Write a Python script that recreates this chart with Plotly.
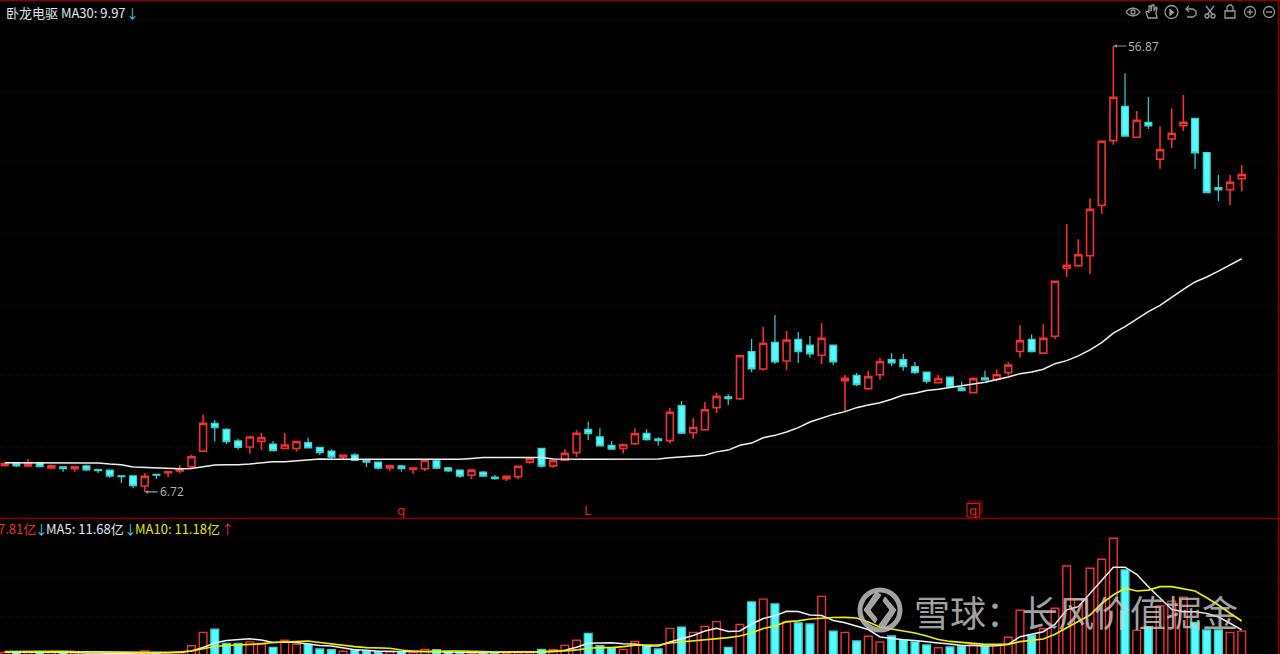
import numpy as np
import plotly.graph_objects as go

W, H = 1280, 654

# price panel
opens = [
    7.63, 7.71, 7.61, 7.71, 7.54, 7.58, 7.51, 7.61, 7.48, 7.46,
    7.26, 7.26, 6.91, 7.31, 7.37, 7.43, 7.58, 8.17, 9.33, 9.07,
    8.58, 8.33, 8.56, 8.45, 8.27, 8.27, 8.51, 8.32, 8.17, 7.94,
    8.02, 7.81, 7.75, 7.54, 7.61, 7.49, 7.51, 7.80, 7.54, 7.46,
    7.28, 7.39, 7.21, 7.16, 7.23, 7.75, 8.28, 7.61, 7.82, 8.11,
    9.07, 8.75, 8.40, 8.27, 8.46, 8.90, 8.66, 8.59, 10.16, 8.92,
    9.05, 10.06, 10.60, 10.50, 13.16, 12.11, 13.76, 12.58, 13.96, 13.57,
    12.93, 13.57, 11.45, 11.75, 11.02, 11.78, 12.66, 12.66, 12.24, 11.93,
    11.34, 11.64, 11.06, 10.81, 11.60, 11.53, 11.90, 13.16, 13.96, 13.06,
    14.16, 19.62, 19.86, 20.83, 26.52, 36.14, 42.60, 36.73, 39.47, 33.06,
    36.43, 38.83, 40.23, 34.12, 28.85, 28.57, 30.12,
]
closes = [
    7.70, 7.61, 7.71, 7.58, 7.61, 7.51, 7.58, 7.47, 7.44, 7.25,
    7.23, 6.92, 7.24, 7.28, 7.40, 7.49, 7.95, 9.33, 9.14, 8.55,
    8.32, 8.74, 8.71, 8.19, 8.41, 8.55, 8.30, 8.11, 7.94, 8.01,
    7.81, 7.75, 7.53, 7.61, 7.51, 7.53, 7.82, 7.53, 7.43, 7.25,
    7.46, 7.25, 7.16, 7.24, 7.60, 7.89, 7.60, 7.80, 8.08, 8.90,
    8.88, 8.38, 8.25, 8.42, 8.88, 8.63, 8.59, 9.84, 8.90, 9.15,
    9.96, 10.62, 10.50, 12.91, 12.11, 13.70, 12.52, 13.90, 13.16, 13.02,
    14.03, 12.52, 11.58, 11.23, 11.67, 12.54, 12.46, 12.24, 11.90, 11.42,
    11.56, 11.12, 10.92, 11.56, 11.49, 11.78, 12.33, 13.87, 13.16, 14.03,
    18.43, 19.90, 20.93, 26.02, 36.04, 44.49, 36.95, 39.85, 38.77, 34.62,
    37.41, 39.47, 34.07, 28.17, 28.53, 29.60, 30.71,
]
highs = [
    7.72, 7.72, 7.87, 7.72, 7.66, 7.59, 7.59, 7.65, 7.50, 7.47,
    7.27, 7.27, 7.35, 7.32, 7.41, 7.64, 8.02, 9.74, 9.48, 9.12,
    8.67, 8.78, 8.91, 8.58, 8.91, 8.58, 8.71, 8.33, 8.24, 8.02,
    8.09, 7.82, 7.76, 7.65, 7.65, 7.54, 7.84, 7.87, 7.57, 7.47,
    7.47, 7.43, 7.29, 7.25, 7.61, 7.91, 8.29, 7.81, 8.24, 9.04,
    9.40, 9.12, 8.58, 8.46, 9.12, 9.07, 8.73, 10.04, 10.39, 9.57,
    10.33, 10.80, 10.73, 12.93, 13.98, 14.81, 15.68, 14.53, 14.46, 14.18,
    15.09, 13.61, 11.77, 11.88, 12.00, 12.77, 13.06, 13.02, 12.52, 11.94,
    11.77, 11.66, 11.40, 11.64, 12.00, 12.09, 12.50, 14.93, 14.30, 15.00,
    18.46, 24.25, 22.54, 27.42, 36.09, 56.87, 49.91, 41.66, 44.55, 38.72,
    42.18, 44.98, 40.29, 34.16, 30.66, 30.66, 32.17,
]
lows = [
    7.58, 7.57, 7.57, 7.55, 7.50, 7.40, 7.40, 7.43, 7.36, 7.19,
    7.01, 6.84, 6.72, 7.15, 7.22, 7.35, 7.49, 8.13, 8.55, 8.45,
    8.23, 8.07, 8.21, 8.15, 8.24, 8.15, 8.27, 8.02, 7.87, 7.86,
    7.80, 7.57, 7.48, 7.44, 7.40, 7.33, 7.43, 7.50, 7.39, 7.19,
    7.15, 7.22, 7.12, 7.08, 7.15, 7.69, 7.55, 7.54, 7.80, 7.94,
    8.62, 8.37, 8.21, 8.08, 8.42, 8.59, 8.38, 8.47, 8.87, 8.67,
    9.01, 9.80, 10.19, 10.44, 11.92, 12.01, 12.40, 12.03, 12.46, 12.77,
    12.40, 12.34, 9.87, 11.16, 10.95, 11.51, 12.28, 12.01, 11.81, 11.29,
    11.29, 11.11, 10.90, 10.78, 11.47, 11.40, 11.73, 12.79, 13.10, 13.04,
    13.98, 18.81, 19.74, 19.09, 25.43, 35.45, 36.83, 36.60, 38.23, 31.56,
    34.90, 37.84, 31.56, 28.08, 27.08, 26.56, 28.35,
]
ma30 = [
    7.73, 7.73, 7.73, 7.73, 7.73, 7.73, 7.73, 7.73, 7.72, 7.68,
    7.65, 7.57, 7.55, 7.53, 7.51, 7.51, 7.52, 7.57, 7.64, 7.65,
    7.65, 7.68, 7.72, 7.76, 7.76, 7.80, 7.83, 7.87, 7.86, 7.86,
    7.86, 7.86, 7.86, 7.86, 7.86, 7.86, 7.86, 7.86, 7.86, 7.86,
    7.89, 7.92, 7.92, 7.92, 7.92, 7.92, 7.92, 7.87, 7.86, 7.86,
    7.86, 7.86, 7.86, 7.86, 7.86, 7.86, 7.87, 7.91, 7.94, 7.96,
    8.01, 8.14, 8.21, 8.40, 8.49, 8.71, 8.81, 8.95, 9.14, 9.39,
    9.56, 9.74, 9.87, 10.06, 10.19, 10.30, 10.47, 10.69, 10.78, 10.92,
    10.99, 11.09, 11.20, 11.27, 11.36, 11.49, 11.65, 11.84, 11.93, 12.09,
    12.42, 12.60, 12.89, 13.27, 13.74, 14.37, 14.83, 15.37, 15.94, 16.42,
    17.10, 17.73, 18.37, 18.81, 19.34, 19.93, 20.53,
]

# volume panel, in 亿
volumes = [
    2.4, 2.5, 2.4, 2.5, 2.4, 2.5, 2.3, 1.9, 1.8, 1.8,
    1.7, 1.8, 2.8, 2.2, 2.3, 2.4, 4.1, 7.5, 8.3, 4.7,
    4.7, 5.1, 4.7, 3.7, 5.5, 4.5, 4.5, 3.3, 3.1, 2.7,
    3.1, 2.85, 2.6, 2.5, 2.6, 2.4, 3.2, 3.1, 2.6, 2.3,
    2.2, 2.4, 2.3, 2.2, 2.3, 2.3, 3.2, 3.1, 4.2, 5.5,
    7.25, 4.1, 3.5, 3.2, 5.2, 4.05, 3.3, 8.5, 8.8, 7.5,
    9.0, 10.2, 3.7, 9.5, 15.2, 15.9, 14.7, 10.1, 9.9, 9.6,
    16.6, 7.8, 7.5, 5.3, 6.5, 5.06, 6.58, 5.57, 5.1, 4.3,
    3.6, 3.8, 4.0, 4.3, 3.9, 4.3, 6.25, 13.1, 6.8, 8.4,
    13.6, 24.3, 15.9, 23.7, 26.0, 31.3, 23.3, 8.0, 8.9, 14.2,
    15.4, 16.4, 10.0, 8.1, 8.1, 7.5, 7.81,
]
vol_ma5 = [
    2.5, 2.5, 2.5, 2.45, 2.45, 2.4, 2.4, 2.3, 2.2, 2.2,
    2.2, 2.2, 2.3, 2.3, 2.35, 2.5, 2.8, 3.65, 4.8, 5.45,
    5.75, 5.87, 5.57, 4.93, 5.06, 4.93, 4.55, 4.17, 4.05, 3.62,
    3.11, 2.96, 2.71, 2.71, 2.6, 2.73, 2.66, 2.66, 2.6, 2.6,
    2.35, 2.35, 2.45, 2.45, 2.45, 2.45, 2.45, 2.6, 2.96, 3.72,
    4.73, 4.73, 4.88, 4.63, 4.55, 4.05, 4.05, 5.06, 5.95, 6.7,
    7.84, 8.53, 7.72, 7.84, 9.61, 11.0, 11.7, 12.83, 12.78, 11.89,
    11.76, 10.5, 9.94, 9.11, 8.22, 6.33, 5.95, 5.64, 5.44, 5.06,
    4.81, 4.55, 4.17, 4.17, 4.05, 4.12, 4.48, 6.4, 7.0, 7.67,
    9.54, 13.2, 14.0, 17.4, 20.7, 24.0, 24.0, 22.2, 19.05, 16.1,
    13.3, 12.7, 12.7, 12.3, 11.4, 9.8, 8.1,
]
vol_ma10 = [
    2.6, 2.65, 2.7, 2.75, 2.7, 2.7, 2.6, 2.55, 2.5, 2.45,
    2.45, 2.45, 2.45, 2.45, 2.45, 2.45, 2.78, 3.3, 3.92, 4.17,
    4.3, 4.43, 4.6, 4.93, 5.06, 5.06, 5.31, 4.93, 4.55, 4.12,
    3.87, 3.62, 3.47, 3.47, 3.04, 2.71, 2.6, 2.78, 2.78, 2.78,
    2.6, 2.6, 2.53, 2.53, 2.53, 2.53, 2.6, 2.78, 2.78, 3.04,
    3.47, 3.62, 3.62, 3.87, 4.23, 4.3, 4.3, 4.81, 5.06, 5.31,
    5.69, 5.95, 6.15, 6.58, 7.34, 8.48, 9.11, 10.2, 10.42, 10.88,
    11.16, 11.26, 11.31, 11.13, 10.12, 8.86, 8.35, 7.84, 7.34, 6.58,
    5.69, 5.19, 4.93, 4.63, 4.48, 4.48, 4.48, 5.14, 5.49, 5.82,
    7.0, 8.68, 10.2, 11.89, 14.85, 16.95, 18.65, 17.96, 18.2, 19.05,
    19.05, 18.47, 17.96, 16.27, 14.42, 12.32, 10.37,
]

price_grid = [64.4, 45.7, 32.48, 23.17, 16.41, 11.71, 8.31]
vol_grid = [31.3, 21.4, 11.56]
marks = [(34, "q"), (50, "L"), (83, "q")]

RED = "#f53030"
CYAN = "#55fbfb"
EDGE_CYAN = "#3fd0d0"
DARK_RED = "#8a0000"
GRID = "#4a0000"
ICON = "#9a9a9a"
ARROW_BLUE = "#40d8f0"
FONT = "Noto Sans CJK SC"

idx = list(range(len(closes)))
up = [c >= o for o, c in zip(opens, closes)]


def fx(px):
    return px / W


def fy(px):
    return 1 - px / H


def poly(*points, close=False):
    # svg path in paper coords from pixel points
    path = "M " + " L ".join(f"{fx(x):.5f},{fy(y):.5f}" for x, y in points)
    return path + " Z" if close else path


fig = go.Figure()

fig.add_trace(go.Scatter(x=idx, y=ma30, mode="lines", line=dict(color="#f2f2f2", width=1.5),
                         hoverinfo="skip"))
fig.add_trace(go.Candlestick(
    x=idx, open=opens, high=highs, low=lows, close=closes, whiskerwidth=0,
    increasing=dict(line=dict(color=RED, width=1.6), fillcolor="#000000"),
    decreasing=dict(line=dict(color=EDGE_CYAN, width=1.2), fillcolor=CYAN),
    hoverinfo="skip",
))

fig.add_trace(go.Bar(
    x=idx, y=volumes, width=0.66, yaxis="y2",
    marker=dict(color=["#000000" if u else CYAN for u in up],
                line=dict(color=[RED if u else EDGE_CYAN for u in up], width=1.4)),
    hoverinfo="skip",
))
fig.add_trace(go.Scatter(x=idx, y=vol_ma5, yaxis="y2", mode="lines",
                         line=dict(color="#f2f2f2", width=1.5), hoverinfo="skip"))
fig.add_trace(go.Scatter(x=idx, y=vol_ma10, yaxis="y2", mode="lines",
                         line=dict(color="#f0f000", width=1.7), hoverinfo="skip"))

shapes = []
# panel borders
shapes.append(dict(type="line", xref="paper", yref="paper", x0=0, x1=1, y0=fy(518.5), y1=fy(518.5),
                   line=dict(color=DARK_RED, width=1.5)))
shapes.append(dict(type="line", xref="paper", yref="paper", x0=0, x1=1, y0=fy(0.5), y1=fy(0.5),
                   line=dict(color=DARK_RED, width=1.5)))
shapes.append(dict(type="line", xref="paper", yref="paper", x0=fx(1278.5), x1=fx(1278.5), y0=0, y1=1,
                   line=dict(color=DARK_RED, width=1.5)))


def circle(cx, cy, r, color=ICON, width=1.3, fill=None, opacity=1):
    shapes.append(dict(type="circle", xref="paper", yref="paper", x0=fx(cx - r), x1=fx(cx + r),
                       y0=fy(cy + r), y1=fy(cy - r), opacity=opacity,
                       line=dict(color=color, width=width), fillcolor=fill))


def path(d, color=ICON, width=1.3, fill=None, opacity=1):
    shapes.append(dict(type="path", xref="paper", yref="paper", path=d, opacity=opacity,
                       line=dict(color=color, width=width), fillcolor=fill))


# toolbar icons
path(poly((1126, 12), (1129, 9), (1133, 8), (1137, 9), (1140, 12), (1137, 15), (1133, 16), (1129, 15), (1126, 12)))
circle(1133, 12, 2)
path(poly((1148, 18), (1146, 12), (1148, 11), (1149, 13), (1149, 6), (1151, 6), (1151, 11), (1152, 5), (1154, 5),
          (1154, 11), (1156, 7), (1157, 8), (1156, 13), (1157, 18), (1148, 18)))
circle(1171.5, 12, 6.5)
path(poly((1170, 9), (1170, 15), (1174, 12)), fill=ICON)
path(poly((1186, 9), (1193, 9), (1196, 11), (1196, 15), (1193, 17), (1187, 17)))
path(poly((1189, 6), (1186, 9), (1189, 12)))
path(poly((1206, 6), (1213, 15)))
path(poly((1214, 6), (1207, 15)))
circle(1207, 16, 2)
circle(1213, 16, 2)
shapes.append(dict(type="rect", xref="paper", yref="paper", x0=fx(1225), x1=fx(1235), y0=fy(18), y1=fy(11),
                   line=dict(color=ICON, width=1.3)))
path(poly((1227, 11), (1227, 7), (1229, 5), (1231, 5), (1233, 7), (1233, 11)))
circle(1250, 12, 5.5)
path(poly((1247, 12), (1253, 12)))
path(poly((1250, 9), (1250, 15)))
circle(1269, 12, 5.5)
path(poly((1266, 12), (1272, 12)))

# box marker behind the last q
shapes.append(dict(type="rect", xref="paper", yref="paper", x0=fx(968), x1=fx(983), y0=fy(514), y1=fy(500.5),
                   fillcolor="#5a0000", line=dict(width=0)))
shapes.append(dict(type="rect", xref="paper", yref="paper", x0=fx(967), x1=fx(979.5), y0=fy(517), y1=fy(503.5),
                   fillcolor="#000000", line=dict(color="#e01010", width=1.2)))

# watermark logo
LOGO = "rgba(190,190,190,0.85)"
circle(880, 610, 20, color=LOGO, width=5)
path(poly((876, 592), (864, 610), (875, 623), (877, 619), (870, 610), (881, 595), close=True), color=LOGO, width=1, fill=LOGO)
path(poly((884, 628), (896, 610), (885, 597), (883, 601), (890, 610), (879, 625), close=True), color=LOGO, width=1, fill=LOGO)


def label(text, x, y, color, size=13):
    return dict(text=text, xref="paper", yref="paper", x=fx(x), y=fy(y), xanchor="left", yanchor="middle",
                showarrow=False, font=dict(color=color, size=size, family=FONT))


annotations = [
    label("卧龙电驱 MA30: 9.97", 4, 12, "#dfe8f0"),
    label("↓", 124, 12, ARROW_BLUE),
    label("7.81亿", -4, 528, "#f03030"),
    label("↓", 33, 528, ARROW_BLUE),
    label("MA5: 11.68亿", 44, 528, "#e8e8f0"),
    label("↓", 122, 528, ARROW_BLUE),
    label("MA10: 11.18亿", 133, 528, "#e8e800"),
    label("↑", 219, 528, "#f03030"),
    label("雪球：长风价值掘金", 912, 611, "rgba(205,205,205,0.8)", size=36),
]

# high / low callouts
hi_i = highs.index(max(highs))
lo_i = lows.index(min(lows))
for i, val in ((hi_i, highs[hi_i]), (lo_i, lows[lo_i])):
    annotations.append(dict(
        text=f"{val:.2f}", x=i, y=np.log10(val), xref="x", yref="y", xanchor="left", yanchor="middle",
        ax=13, ay=0, axref="pixel", ayref="pixel", showarrow=True, arrowhead=2, arrowsize=0.6, arrowwidth=1.2,
        arrowcolor="#9a9a9a", font=dict(color="#b4b4b4", size=12, family="Open Sans"),
    ))

for i, mark in marks:
    annotations.append(dict(text=mark, x=i, xref="x", y=fy(510.5), yref="paper", xanchor="center",
                            yanchor="middle", showarrow=False,
                            font=dict(color="#e02020", size=13, family="DejaVu Sans")))

fig.update_layout(
    width=W, height=H, margin=dict(l=0, r=0, t=0, b=0),
    paper_bgcolor="#000000", plot_bgcolor="#000000", showlegend=False, boxgap=0.16,
    xaxis=dict(range=[-0.403, 109.28], showgrid=False, zeroline=False, showticklabels=False,
               ticks="", rangeslider=dict(visible=False), anchor="y2"),
    yaxis=dict(type="log", range=[np.log10(5.93), np.log10(70.89)], domain=[136 / H, 1],
               tickmode="array", tickvals=price_grid, showticklabels=False, ticks="",
               gridcolor=GRID, griddash="1px,3px", gridwidth=1, zeroline=False),
    yaxis2=dict(range=[2.02, 36.43], domain=[0, 136 / H], tickmode="array", tickvals=vol_grid,
                showticklabels=False, ticks="", gridcolor=GRID, griddash="1px,3px",
                gridwidth=1, zeroline=False),
    shapes=shapes, annotations=annotations,
)
fig.write_html("out.html", config={"displayModeBar": False},
               post_script="document.body.style.margin='0';document.body.style.background='#000';document.body.style.overflow='hidden';")
